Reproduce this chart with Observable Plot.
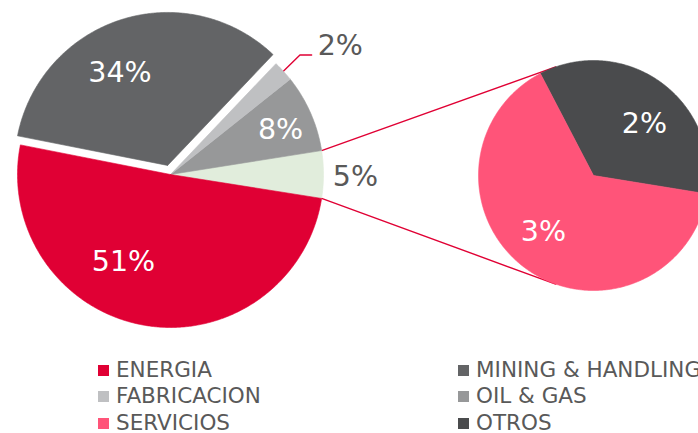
<!DOCTYPE html>
<html><head><meta charset="utf-8">
<script src="https://cdn.jsdelivr.net/npm/d3@7"></script>
<script src="https://cdn.jsdelivr.net/npm/@observablehq/plot@0.6"></script>
<style>
body{margin:0;background:#fff;width:698px;height:433px;overflow:hidden;font-family:"DejaVu Sans",sans-serif;}
#chart svg{display:block;overflow:visible}
#legend{display:grid;grid-template-columns:360px 300px;margin-left:98px;font-size:21.5px;line-height:26.4px;color:#595959;white-space:nowrap}
.item{display:flex;align-items:center}
.sw{width:11px;height:11px;margin-right:7px;flex:none}
</style></head><body>
<div id="chart"></div><div id="legend"></div>
<script>
// ---- data ----
const mainCategories = ["SERVICIOS Y OTROS", "OIL & GAS", "FABRICACION", "MINING & HANDLING", "ENERGIA"];
const mainValues = [5.0, 8.2, 2.2, 34.0, 50.6];
const subCategories = ["OTROS", "SERVICIOS"];
const subValues = [1.76, 3.24];
const legendCategories = ["ENERGIA", "MINING & HANDLING", "FABRICACION", "OIL & GAS", "SERVICIOS", "OTROS"];

// ---- styles / layout ----
const colors = {
  "ENERGIA": "#E00034", "MINING & HANDLING": "#636466", "FABRICACION": "#BFC0C2",
  "OIL & GAS": "#979899", "SERVICIOS": "#FF5479", "OTROS": "#4A4B4D", "SERVICIOS Y OTROS": "#E1EDDC"
};
const W = 698, H = 357;
const main = {cx: 170, cy: 174, r: 153};
const sub = {cx: 593, cy: 175, r: 115, start: -9.2};
const explode = {"MINING & HANDLING": 9.5};
const labelLayout = { // radius fraction, angle nudge (deg), inside?
  "SERVICIOS Y OTROS": {f: 1.209, da: -0.6, inside: false},
  "OIL & GAS": {f: 0.777, da: -1.5, inside: true},
  "MINING & HANDLING": {f: 0.683, da: 9.5, inside: true},
  "ENERGIA": {f: 0.646, da: -18.3, inside: true},
  "OTROS": {f: 0.633, da: -8.6, inside: true},
  "SERVICIOS": {f: 0.653, da: -6, inside: true}
};
const connectorSubAngles = [250.8, 109.2];
const leaderKey = "FABRICACION";

const rad = d => d * Math.PI / 180;
const pt = (cx, cy, r, deg) => ({x: cx + r * Math.cos(rad(deg)), y: cy - r * Math.sin(rad(deg))});

function layoutPie(cats, vals, startDeg) {
  const total = d3.sum(vals);
  let a = startDeg;
  return cats.map((c, i) => {
    const span = vals[i] / total * 360;
    const s = {key: c, value: vals[i], a0: a, a1: a + span, mid: a + span / 2};
    a += span;
    return s;
  });
}
const mainTotal = d3.sum(mainValues);
const mainSlices = layoutPie(mainCategories, mainValues, -mainValues[0] / mainTotal * 360 / 2);
const subSlices = layoutPie(subCategories, subValues, sub.start);

function slicePolys(slices, g) {
  const pts = [];
  for (const s of slices) {
    const e = explode[s.key] || 0;
    const o = pt(g.cx, g.cy, e, s.mid);
    s.cx = o.x; s.cy = o.y;
    pts.push({key: s.key, x: o.x, y: o.y, color: colors[s.key]});
    const n = Math.max(2, Math.ceil((s.a1 - s.a0) / 0.5));
    for (let k = 0; k <= n; k++) {
      const p = pt(o.x, o.y, g.r, s.a0 + (s.a1 - s.a0) * k / n);
      pts.push({key: s.key, x: p.x, y: p.y, color: colors[s.key]});
    }
    pts.push({key: s.key, x: o.x, y: o.y, color: colors[s.key]});
  }
  return pts;
}
const mainPts = slicePolys(mainSlices, main);
const subPts = slicePolys(subSlices, sub);

const pct = v => Math.round(v) + "%";
const labels = [];
for (const [slices, g] of [[mainSlices, main], [subSlices, sub]]) {
  for (const s of slices) {
    const L = labelLayout[s.key];
    if (!L) continue;
    const p = pt(s.cx, s.cy, g.r * L.f, s.mid + L.da);
    labels.push({x: p.x, y: p.y, text: pct(s.value), fill: L.inside ? "#FFFFFF" : "#595959"});
  }
}

// connectors main group slice -> secondary pie
const group = mainSlices[0];
const connectors = [];
[group.a0, group.a1].forEach((a, i) => {
  const p0 = pt(main.cx, main.cy, main.r, a);
  const p1 = pt(sub.cx, sub.cy, sub.r, connectorSubAngles[i]);
  connectors.push({id: i, x: p0.x, y: p0.y}, {id: i, x: p1.x, y: p1.y});
});

// leader for small slice
const fab = mainSlices.find(s => s.key === leaderKey);
const l0 = pt(main.cx, main.cy, main.r, fab.mid);
const l1 = {x: l0.x + 16.6, y: l0.y - 16.2};
const l2 = {x: l1.x + 11.7, y: l1.y};
const leader = [l0, l1, l2];
const leaderLabel = [{x: l2.x + 6, y: l2.y - 9.5, text: pct(fab.value)}];

const chart = Plot.plot({
  width: W, height: H,
  margin: 0,
  x: {domain: [0, W], range: [0, W], axis: null},
  y: {domain: [0, H], range: [0, H], axis: null},
  color: {type: "identity"},
  style: {background: "#fff", fontFamily: "DejaVu Sans, sans-serif"},
  marks: [
    Plot.line(connectors, {x: "x", y: "y", z: "id", stroke: "#E00034", strokeWidth: 1.4}),
    Plot.line(leader, {x: "x", y: "y", stroke: "#E00034", strokeWidth: 1.4}),
    Plot.line(mainPts, {x: "x", y: "y", z: "key", fill: "color", stroke: "color", strokeWidth: 0.6, curve: "linear"}),
    Plot.line(subPts, {x: "x", y: "y", z: "key", fill: "color", stroke: "color", strokeWidth: 0.6, curve: "linear"}),
    Plot.text(labels, {x: "x", y: "y", text: "text", fill: "fill", fontSize: 28.5, textAnchor: "middle", lineAnchor: "middle"}),
    Plot.text(leaderLabel, {x: "x", y: "y", text: "text", fill: "#595959", fontSize: 28.5, textAnchor: "start", lineAnchor: "middle"})
  ]
});
document.getElementById("chart").appendChild(chart);

const leg = document.getElementById("legend");
for (const c of legendCategories) {
  const it = document.createElement("div");
  it.className = "item";
  const sw = document.createElement("span");
  sw.className = "sw";
  sw.style.background = colors[c];
  const t = document.createElement("span");
  t.textContent = c;
  it.append(sw, t);
  leg.append(it);
}
</script>
</body></html>
